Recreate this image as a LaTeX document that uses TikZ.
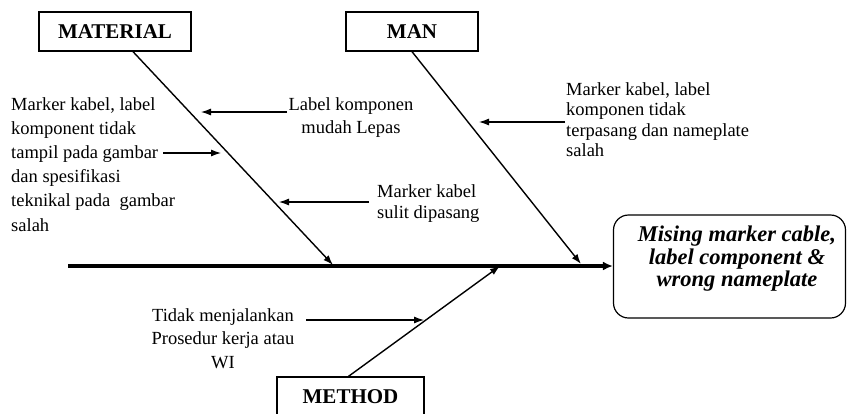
\documentclass[tikz,border=0pt]{standalone}
\usepackage{fontspec}
\setmainfont{Liberation Serif}
\usetikzlibrary{arrows.meta}
\begin{document}
\begin{tikzpicture}[x=1pt,y=-1pt,
  catbox/.style={draw,line width=1.3pt,inner sep=0pt,font=\bfseries\fontsize{21}{21}\selectfont},
  lbl/.style={inner sep=0pt,font=\fontsize{18.5}{#1}\selectfont},
  lbl/.default=23,
  effbox/.style={draw,line width=1.2pt,rounded corners=15pt,inner sep=0pt,minimum width=232pt,minimum height=103pt},
  efftext/.style={inner sep=0pt,align=center,font=\bfseries\itshape\fontsize{22.5}{22.5}\selectfont},
  bone/.style={line width=1.4pt,-{Latex[length=10pt,width=7pt]}},
  sub/.style={line width=1.1pt,-{Latex[length=10pt,width=7pt]}},
  spine/.style={line width=3.4pt,-{Latex[length=10pt,width=9pt]}}]
\useasboundingbox (0,0) rectangle (848,413);
\clip (0,0) rectangle (848,413);
% category boxes
\node[catbox,minimum width=152pt,minimum height=39pt] (mat) at (115,31.5) {MATERIAL};
\node[catbox,minimum width=132pt,minimum height=39pt] (man) at (412,31.5) {MAN};
\node[catbox,minimum width=147pt,minimum height=39pt] (meth) at (350.5,396.5) {METHOD};
% effect
\node[effbox] (eff) at (729.5,266.5) {};
\node[efftext] (efft) at (737,259) {Mising marker cable,\\label component \&\\wrong nameplate};
% spine
\coordinate (tail) at (68,266);
\draw[spine] (tail) -- (eff.west |- tail);
% bone ends on spine
\coordinate (j1) at (333,265);
\coordinate (j2) at (581,264);
\coordinate (j3) at (500,266);
\draw[bone] ([xshift=18pt]mat.south) -- (j1);
\draw[bone] (man.south) -- (j2);
\draw[bone] ([xshift=-2pt]meth.north) -- (j3);
% labels
\node[lbl=24.2,anchor=north west,align=left] (lmat) at (11,97)
  {Marker kabel, label\\komponent tidak\\tampil pada gambar\\dan spesifikasi\\teknikal pada\ \ gambar\\salah};
\node[lbl=23,anchor=north,align=center] (lkomp) at (351,97) {Label komponen\\mudah Lepas};
\node[lbl=21.5,anchor=north west,align=left] (lsulit) at (377,184) {Marker kabel\\sulit dipasang};
\node[lbl=20.5,anchor=north west,align=left] (lman) at (566,82)
  {Marker kabel, label\\komponen tidak\\terpasang dan nameplate\\salah};
\node[lbl=23.5,anchor=north,align=center] (ltidak) at (223,308) {Tidak menjalankan\\Prosedur kerja atau\\WI};
% sub-cause arrows
\coordinate (s1) at (287,112); \coordinate (e1) at (201,112);
\draw[sub] (s1) -- (e1);
\coordinate (s2) at (163,153); \coordinate (e2) at (221,153);
\draw[sub] (s2) -- (e2);
\coordinate (s3) at (369,202); \coordinate (e3) at (279,202);
\draw[sub] (s3) -- (e3);
\coordinate (s4) at (565,122); \coordinate (e4) at (479,122);
\draw[sub] (s4) -- (e4);
\coordinate (s5) at (306,320); \coordinate (e5) at (424,320);
\draw[sub] (s5) -- (e5);
\end{tikzpicture}
\end{document}
